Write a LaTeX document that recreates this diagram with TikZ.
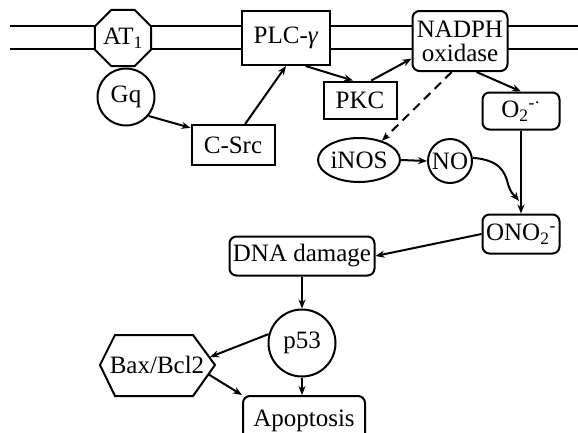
\documentclass[tikz,border=0pt]{standalone}
\usepackage{fontspec}
\setmainfont{Liberation Serif}
\usetikzlibrary{shapes.geometric,arrows.meta}
\begin{document}
\begin{tikzpicture}[x=1pt,y=-1pt,
  every node/.style={font=\fontsize{25}{28}\selectfont, inner sep=0pt},
  box/.style={draw, line width=2pt, fill=white},
  rbox/.style={box, rounded corners=7pt},
  conn/.style={line width=2pt, -{Stealth[length=9pt,width=7pt]}},
  memb/.style={line width=1.4pt}]
\useasboundingbox (0,0) rectangle (578,432);
% membrane
\draw[memb] (10,26) -- (578,26);
\draw[memb] (10,49) -- (578,49);
% nodes
\node[box, regular polygon, regular polygon sides=8, minimum size=59pt] (at1) at (123,38) {AT\textsubscript{1}};
\node[box, circle, minimum size=57pt] (gq) at (126,97) {Gq};
\node[box, minimum width=88pt, minimum height=54pt] (plc) at (286,38) {PLC-\textit{γ}};
\node[rbox, minimum width=95pt, minimum height=60pt, align=center] (nadph) at (460,41) {NADPH\\[-4pt]oxidase};
\node[box, minimum width=73pt, minimum height=37pt] (pkc) at (360,100) {PKC};
\node[rbox, minimum width=77pt, minimum height=37pt] (o2) at (521,111) {O\textsubscript{2}\textsuperscript{-·}};
\node[box, minimum width=83pt, minimum height=40pt] (csrc) at (233,145) {C-Src};
\node[box, ellipse, minimum width=82pt, minimum height=44pt] (inos) at (359,160) {iNOS};
\node[box, circle, minimum size=44pt] (no) at (450,161) {NO};
\node[rbox, minimum width=77pt, minimum height=39pt] (ono2) at (521,234) {ONO\textsubscript{2}\textsuperscript{-}};
\node[rbox, minimum width=145pt, minimum height=39pt] (dna) at (302,256) {DNA damage};
\node[box, circle, minimum size=67pt] (p53) at (302,343) {p53};
\draw[box] (100,365) -- (115,335) -- (193,335) -- (215,365) -- (193,396) -- (115,396) -- cycle;
\node (bax) at (157,365) {Bax/Bcl2};
\node[rbox, minimum width=122pt, minimum height=50pt, anchor=north] (apo) at (304,395) {Apoptosis};
% connectors
\draw[conn] (gq.-40) -- (csrc.158);
\draw[conn] (csrc.60) -- (plc.south);
\draw[conn] (plc.-55) -- (pkc.110);
\draw[conn] (pkc.60) -- (nadph.-160);
\draw[conn] (nadph.-62) -- (o2.north);
\draw[line width=2pt, dashed, dash pattern=on 9pt off 6pt, -{Stealth[length=9pt,width=7pt]}] (nadph.-105) -- (inos.40);
\draw[conn] (inos.east) -- (no.west);
\coordinate (m) at (519,201);
\draw[conn] (no.8) .. controls (500,160) and (505,172) .. (508,184) .. controls (511,194) and (515,196) .. (m);
\draw[conn] (o2.south) -- (ono2.north);
\draw[conn] (ono2.west) -- (dna.east);
\draw[conn] (dna.south) -- (p53.north);
\draw[conn] (p53.165) -- (210,357);
\draw[conn, line width=2.6pt] (p53.south) -- (apo.north -| p53.south);
\draw[conn] (208,374) -- (apo.north west);
\end{tikzpicture}
\end{document}
